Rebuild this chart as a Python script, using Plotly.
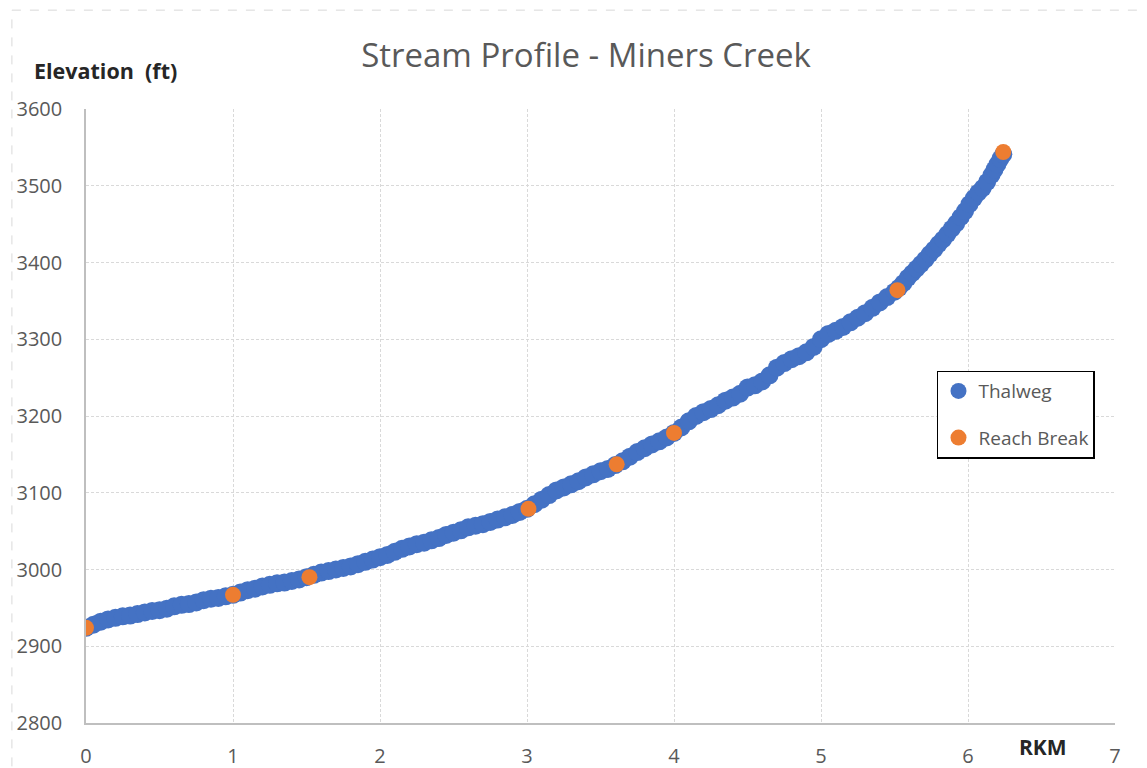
"""Stream profile of Miners Creek: thalweg elevations with reach breaks."""

import plotly.graph_objects as go

# thalweg survey (river km, elevation ft)
rkm = [
    0.00, 0.05, 0.10, 0.15, 0.20, 0.25, 0.30, 0.35, 0.40, 0.45,
    0.50, 0.55, 0.60, 0.65, 0.70, 0.75, 0.80, 0.85, 0.90, 0.95,
    1.00, 1.05, 1.10, 1.15, 1.20, 1.25, 1.30, 1.35, 1.40, 1.45,
    1.50, 1.55, 1.60, 1.65, 1.70, 1.75, 1.80, 1.85, 1.90, 1.95,
    2.00, 2.05, 2.10, 2.15, 2.20, 2.25, 2.30, 2.35, 2.40, 2.45,
    2.50, 2.55, 2.60, 2.65, 2.70, 2.75, 2.80, 2.85, 2.90, 2.95,
    3.00, 3.05, 3.10, 3.15, 3.20, 3.25, 3.30, 3.35, 3.40, 3.45,
    3.50, 3.55, 3.60, 3.65, 3.70, 3.75, 3.80, 3.85, 3.90, 3.95,
    4.00, 4.05, 4.10, 4.15, 4.20, 4.25, 4.30, 4.35, 4.40, 4.45,
    4.50, 4.55, 4.60, 4.65, 4.70, 4.75, 4.80, 4.85, 4.90, 4.95,
    5.00, 5.05, 5.10, 5.15, 5.20, 5.25, 5.30, 5.35, 5.40, 5.45,
    5.50, 5.53, 5.56, 5.59, 5.62, 5.65, 5.68, 5.71, 5.74, 5.77,
    5.80, 5.83, 5.86, 5.89, 5.92, 5.95, 5.98, 6.01, 6.04, 6.07,
    6.10, 6.13, 6.16, 6.18, 6.20, 6.22, 6.24,
]
elev = [
    2924, 2928, 2932, 2935, 2937, 2939, 2940, 2942, 2944, 2946,
    2947, 2949, 2952, 2954, 2955, 2957, 2960, 2962, 2963, 2965,
    2967, 2970, 2973, 2975, 2978, 2980, 2982, 2983, 2985, 2987,
    2990, 2993, 2996, 2998, 3000, 3002, 3004, 3007, 3010, 3013,
    3016, 3019, 3023, 3027, 3030, 3033, 3035, 3038, 3041, 3045,
    3048, 3051, 3055, 3057, 3059, 3062, 3065, 3068, 3071, 3075,
    3079, 3085, 3091, 3097, 3103, 3107, 3111, 3115, 3120, 3124,
    3128, 3131, 3136, 3141, 3147, 3153, 3158, 3163, 3167, 3172,
    3178, 3185, 3193, 3200, 3205, 3209, 3214, 3220, 3224, 3229,
    3237, 3240, 3245, 3253, 3263, 3269, 3274, 3278, 3283, 3290,
    3300, 3307, 3311, 3316, 3322, 3328, 3334, 3341, 3348, 3355,
    3362, 3367, 3373, 3380, 3386, 3392, 3398, 3404, 3411, 3417,
    3424, 3430, 3437, 3444, 3451, 3459, 3467, 3476, 3484, 3491,
    3497, 3505, 3514, 3521, 3528, 3535, 3541,
]

# reach breaks
break_rkm = [0.00, 1.00, 1.52, 3.01, 3.61, 4.00, 5.52, 6.24]
break_elev = [2924, 2967, 2990, 3079, 3137, 3178, 3364, 3544]

x_ticks = [0, 1, 2, 3, 4, 5, 6, 7]
y_ticks = [2800, 2900, 3000, 3100, 3200, 3300, 3400, 3500, 3600]

BLUE = "#4472C4"
ORANGE = "#ED7D31"
TEXT = "#595959"
GRID = "#D9D9D9"
FONT = "Open Sans, sans-serif"

fig = go.Figure()
fig.add_trace(
    go.Scatter(
        x=rkm,
        y=elev,
        mode="markers",
        name="Thalweg",
        legendgroup="a",
        marker=dict(color=BLUE, size=18, line=dict(width=0)),
    )
)
fig.add_trace(
    go.Scatter(
        x=break_rkm,
        y=break_elev,
        mode="markers",
        name="Reach Break",
        legendgroup="b",
        marker=dict(color=ORANGE, size=16, line=dict(width=0)),
    )
)

# page body adds 8px offset, so the figure is sized to fit the window
fig.update_layout(
    width=1139,
    height=760,
    margin=dict(l=78, r=32, t=101, b=45, autoexpand=False),
    paper_bgcolor="white",
    plot_bgcolor="white",
    font=dict(family=FONT, color=TEXT),
    title=dict(
        text="Stream Profile - Miners Creek",
        font=dict(size=33, color=TEXT, family=FONT),
        x=0.5075,
        xanchor="center",
        xref="container",
        y=0.938,
        yanchor="middle",
        yref="container",
    ),
    legend=dict(
        x=0.827,
        y=0.574,
        xanchor="left",
        yanchor="top",
        bgcolor="white",
        bordercolor="black",
        borderwidth=1.5,
        font=dict(size=19, color=TEXT),
        tracegroupgap=19,
        itemwidth=30,
    ),
    showlegend=True,
)

fig.update_xaxes(
    range=[0, 7],
    tickvals=x_ticks,
    automargin=False,
    showgrid=True,
    gridcolor=GRID,
    griddash="3px,2px",
    showline=True,
    linecolor="#BFBFBF",
    linewidth=1.5,
    zeroline=False,
    tickfont=dict(size=20, color=TEXT),
    ticklabelstandoff=14,
)
fig.update_yaxes(
    range=[2800, 3600],
    tickvals=y_ticks,
    automargin=False,
    showgrid=True,
    gridcolor=GRID,
    griddash="3px,2px",
    showline=True,
    linecolor="#BFBFBF",
    linewidth=1.5,
    zeroline=False,
    tickfont=dict(size=20, color=TEXT),
    ticklabelstandoff=18,
)

# axis titles placed like the spreadsheet original
fig.add_annotation(
    text="<b>Elevation  (ft)</b>",
    xref="paper", yref="paper",
    x=-0.0525, y=1.0635,
    xanchor="left", yanchor="middle",
    showarrow=False,
    font=dict(size=21.5, color="#262626", family=FONT),
)
fig.add_annotation(
    text="<b>RKM</b>",
    xref="paper", yref="paper",
    x=0.930, y=-0.039,
    xanchor="center", yanchor="middle",
    showarrow=False,
    font=dict(size=21, color="#262626", family=FONT),
)

# faint outer chart border
fig.add_shape(
    type="line", xref="paper", yref="paper",
    x0=-0.072, x1=-0.072, y0=-0.1, y1=1.161,
    line=dict(color=GRID, width=1, dash="dash"),
)
fig.add_shape(
    type="line", xref="paper", yref="paper",
    x0=-0.072, x1=1.05, y0=1.161, y1=1.161,
    line=dict(color=GRID, width=1, dash="dash"),
)

fig.write_html("out.html")
